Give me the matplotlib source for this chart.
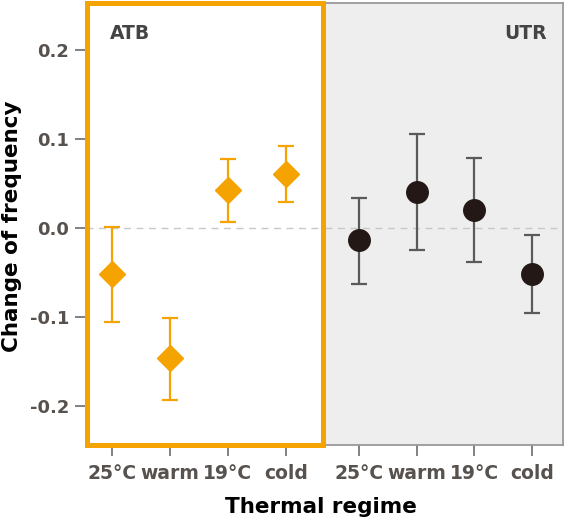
import matplotlib
matplotlib.use("Agg")
import matplotlib.pyplot as plt
from matplotlib.patches import Rectangle

categories = ["25°C", "warm", "19°C", "cold"]

atb_mean = [-0.052, -0.147, 0.042, 0.061]
atb_upper = [0.001, -0.101, 0.077, 0.092]
atb_lower = [-0.106, -0.194, 0.006, 0.029]

utr_mean = [-0.014, 0.040, 0.020, -0.052]
utr_upper = [0.034, 0.105, 0.078, -0.008]
utr_lower = [-0.063, -0.025, -0.038, -0.096]

yticks = [-0.2, -0.1, 0.0, 0.1, 0.2]
ytick_labels = ["-0.2", "-0.1", "0.0", "0.1", "0.2"]

W, H = 564, 520
fig = plt.figure(figsize=(W / 100, H / 100), dpi=100)

ORANGE = "#F5A300"
TXT = "#58524f"

def px_axes(x0, x1, y0, y1):
    return fig.add_axes([x0 / W, 1 - y1 / H, (x1 - x0) / W, (y1 - y0) / H])

ylim = (-0.2444, 0.2528)
axL = px_axes(86, 323, 3, 445)
axR = px_axes(325, 563, 3, 445)

xs = list(range(len(categories)))

for ax, xl in ((axL, (-0.448, 3.638)), (axR, (-0.59, 3.54))):
    ax.set_ylim(*ylim)
    ax.set_xlim(*xl)
    ax.axhline(0, color="#c8c8c8", lw=1.0, ls=(0, (5, 4)), zorder=1)
    ax.set_xticks(xs)
    ax.set_xticklabels(categories, fontsize=13.5, fontweight="bold", color=TXT)
    ax.tick_params(axis="x", length=8, width=1.3, color="#777777", pad=6)

axL.set_facecolor("white")
axR.set_facecolor("#eeeeee")
for s in axL.spines.values():
    s.set_visible(False)
for name, s in axR.spines.items():
    s.set_color("#999999")
    s.set_linewidth(1.3)
axR.spines["left"].set_visible(False)

axL.set_yticks(yticks)
axL.set_yticklabels(ytick_labels, fontsize=13, fontweight="bold", color=TXT)
axL.tick_params(axis="y", length=8, width=1.3, color="#777777", pad=4)
axR.set_yticks([])

# ATB
err_lo = [m - l for m, l in zip(atb_mean, atb_lower)]
err_hi = [u - m for m, u in zip(atb_mean, atb_upper)]
axL.errorbar(xs, atb_mean, yerr=[err_lo, err_hi], fmt="D", color=ORANGE,
             ecolor=ORANGE, elinewidth=1.6, capsize=6, capthick=1.6,
             markersize=13, zorder=3)

# UTR
err_lo = [m - l for m, l in zip(utr_mean, utr_lower)]
err_hi = [u - m for m, u in zip(utr_mean, utr_upper)]
axR.errorbar(xs, utr_mean, yerr=[err_lo, err_hi], fmt="o", color="#231815",
             ecolor="#5a5a5a", elinewidth=1.6, capsize=6, capthick=1.6,
             markersize=15.5, zorder=3)

axL.text(0.1, 0.93, "ATB", transform=axL.transAxes, fontsize=13.5, fontweight="bold",
         color="#444444", ha="left", va="center")
axR.text(0.933, 0.93, "UTR", transform=axR.transAxes, fontsize=13.5, fontweight="bold",
         color="#444444", ha="right", va="center")

# orange frame
fig.patches.append(Rectangle((86.5 / W, 1 - 444.5 / H), (323 - 86.5) / W, (444.5 - 2.5) / H,
                             transform=fig.transFigure, fill=False, edgecolor=ORANGE,
                             linewidth=3.6, zorder=10))

fig.text(321 / W, 1 - 507 / H, "Thermal regime", fontsize=15.5, fontweight="bold",
         color="black", ha="center", va="center")
fig.text(12 / W, 1 - 226 / H, "Change of frequency", fontsize=15.5, fontweight="bold",
         color="black", ha="center", va="center", rotation=90)

fig.savefig("out.png", dpi=100)
